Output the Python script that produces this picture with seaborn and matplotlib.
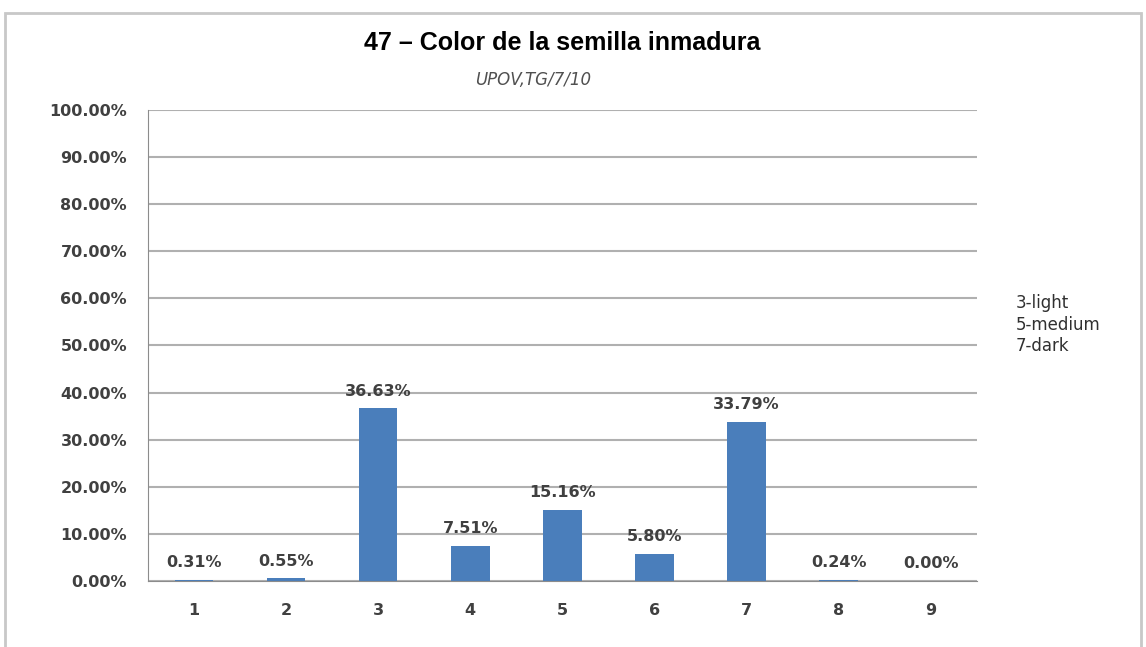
import pandas as pd
import matplotlib.pyplot as plt
import seaborn as sns
from matplotlib.patches import Rectangle
from matplotlib.ticker import PercentFormatter

# Data
categories = ["1", "2", "3", "4", "5", "6", "7", "8", "9"]
values = [0.31, 0.55, 36.63, 7.51, 15.16, 5.80, 33.79, 0.24, 0.00]
notes = ["3-light", "5-medium", "7-dark"]

df = pd.DataFrame({"Nivel": categories, "Porcentaje": values})

sns.set_style("white")
plt.rcParams["font.family"] = ["DejaVu Sans"]

fig = plt.figure(figsize=(11.46, 6.47), dpi=100)
ax = fig.add_axes([0.129, 0.102, 0.7234, 0.728])

sns.barplot(data=df, x="Nivel", y="Porcentaje", color="#4a7ebb",
            width=0.42, saturation=1, linewidth=0, ax=ax)

ax.set_ylim(0, 100)
ax.set_yticks(range(0, 101, 10))
ax.yaxis.set_major_formatter(PercentFormatter(decimals=2))
ax.grid(axis="y", color="#b0b0b0", linewidth=1.5)
ax.set_axisbelow(True)
ax.set_xlim(-0.5, len(categories) - 0.5)

for side in ["top", "right"]:
    ax.spines[side].set_visible(False)
ax.spines["left"].set_color("#8c8c8c")
ax.spines["bottom"].set_color("#8c8c8c")

# Excel style ticks between categories
ax.set_xticks([i - 0.5 for i in range(len(categories) + 1)], minor=True)
ax.tick_params(axis="x", which="minor", length=5, color="#8c8c8c", direction="out")
ax.tick_params(axis="x", which="major", length=0, pad=16)
ax.tick_params(axis="y", length=5, color="#8c8c8c", direction="out", pad=10)
ax.tick_params(labelsize=11.5, labelcolor="#404040")
for lab in ax.get_yticklabels() + ax.get_xticklabels():
    lab.set_fontweight("bold")
ax.set_xlabel("")
ax.set_ylabel("")

ax.bar_label(ax.containers[0], labels=[f"{v:.2f}%" for v in values],
             padding=7, fontsize=11.5, color="#404040", fontweight="bold")

fig.text(0.491, 0.934, "47 – Color de la semilla inmadura", ha="center",
         va="center", fontsize=18, fontweight="bold", family="Liberation Sans",
         color="black")
fig.text(0.465, 0.876, "UPOV,TG/7/10", ha="center", va="center",
         fontsize=12, style="italic", color="#505050")
fig.text(0.886, 0.545, "\n".join(notes), ha="left", va="top",
         fontsize=12, color="#303030", linespacing=1.25)

# Outer chart frame
fig.patches.append(Rectangle((0.004, -0.01), 0.992, 0.99, transform=fig.transFigure,
                             fill=False, edgecolor="#c8c8c8", linewidth=2))

plt.savefig("out.png", dpi=100)
